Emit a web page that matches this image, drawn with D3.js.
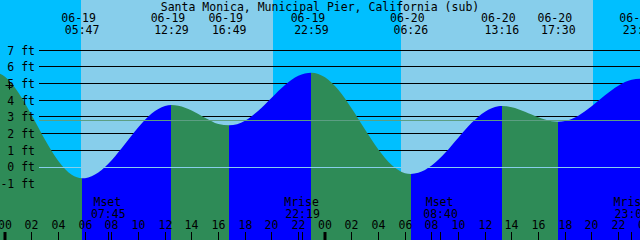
<!DOCTYPE html>
<html><head><meta charset="utf-8">
<script src="https://cdn.jsdelivr.net/npm/d3@7"></script>
<style>
html,body{margin:0;padding:0;background:#00bfff;}
svg{display:block;}
text{font-family:"DejaVu Sans Mono",monospace;font-size:11.5px;fill:#000;}
</style>
</head><body>
<svg id="c" width="640" height="240"></svg>
<script>
// ---------- data ----------
const title = "Santa Monica, Municipal Pier, California (sub)";
const days = ["06-19", "06-20", "06-21"];
const firstHour = -1; // hourly series starts at 06-18 23:00
const hourlyLevels = [5.75, 5.41, 4.47, 3.11, 1.64, 0.36, -0.47, -0.67, -0.33, 0.41,
  1.38, 2.39, 3.21, 3.66, 3.68, 3.39, 2.96, 2.58, 2.51, 2.78,
  3.38, 4.16, 4.92, 5.47, 5.66, 5.38, 4.63, 3.51, 2.25, 1.05,
  0.12, -0.37, -0.35, 0.09, 0.84, 1.76, 2.65, 3.32, 3.64, 3.59,
  3.32, 2.98, 2.75, 2.76, 3.08, 3.64, 4.30, 4.88, 5.23, 5.28];
const tideDates = ["06-19", "06-19", "06-19", "06-19", "06-20", "06-20", "06-20", "06-20"];
const tideTimes = ["05:47", "12:29", "16:49", "22:59", "06:26", "13:16", "17:30", "23:38"];
const tideLevels = [-0.68, 3.72, 2.50, 5.66, -0.42, 3.66, 2.72, 5.30];
const sunDates = ["06-19", "06-20"];
const sunrises = ["05:42", "05:42"];
const sunsets = ["20:08", "20:08"];
const moonDates = ["06-19", "06-19", "06-20", "06-20"];
const moonNames = ["Mset", "Mrise", "Mset", "Mrise"];
const moonTimes = ["07:45", "22:19", "08:40", "23:01"];
const levelTicks = [-1, 0, 1, 2, 3, 4, 5, 6, 7];
const hourTicks = d3.range(0, 49, 2);
const meanLevel = 2.8;
const markTime = 0.3, markLevel = 4.9;

// ---------- helpers ----------
const W = 640, H = 240;
const toHours = (date, time) => {
  const [hh, mm] = time.split(":").map(Number);
  return days.indexOf(date) * 24 + hh + mm / 60;
};
const x = d3.scaleLinear().domain([0, 48]).range([5, 645]);
const y = d3.scaleLinear().domain([0, 7]).range([167, 50.33]);
const svg = d3.select("#c");
const crisp = v => Math.floor(v) + 0.5;

// background: night + day bands
svg.append("rect").attr("width", W).attr("height", H).attr("fill", "#00bfff");
sunDates.forEach((d, i) => {
  const a = Math.round(x(toHours(d, sunrises[i]))), b = Math.round(x(toHours(d, sunsets[i])));
  svg.append("rect").attr("x", a).attr("y", 0).attr("width", b - a).attr("height", H)
    .attr("fill", "#87ceeb");
});

// grid lines (behind the water)
svg.append("g").selectAll("line").data(levelTicks.filter(d => d !== 0)).join("line")
  .attr("x1", 39).attr("x2", W)
  .attr("y1", d => crisp(y(d))).attr("y2", d => crisp(y(d)))
  .attr("stroke", "#000").attr("stroke-width", 1);

// tide curve points
const events = tideTimes.map((t, i) => ({ t: toHours(tideDates[i], t), v: tideLevels[i], label: t, date: tideDates[i] }));
const pts = hourlyLevels.map((v, i) => ({ t: firstHour + i, v }))
  .filter(p => !events.some(e => Math.abs(e.t - p.t) < 0.2))
  .concat(events.map(e => ({ t: e.t, v: e.v })))
  .sort((a, b) => a.t - b.t);

const area = d3.area().x(d => x(d.t)).y0(H).y1(d => y(d.v)).curve(d3.curveMonotoneX);
svg.append("clipPath").attr("id", "water").append("path").attr("d", area(pts));

const water = svg.append("g").attr("clip-path", "url(#water)");
const bounds = [firstHour - 1].concat(events.map(e => e.t)).concat([60]);
for (let i = 0; i < bounds.length - 1; i++) {
  // segment ending at event i is rising if that event is a high
  let rising;
  if (i < events.length) {
    const prev = i === 0 ? hourlyLevels[0] : events[i - 1].v;
    rising = events[i].v > prev;
  } else {
    rising = events[events.length - 1].v < events[events.length - 2].v;
  }
  const a = Math.round(x(bounds[i])), b = Math.round(x(bounds[i + 1]));
  water.append("rect").attr("x", a).attr("y", 0).attr("width", b - a).attr("height", H)
    .attr("fill", rising ? "#0000ff" : "#2e8b57").attr("shape-rendering", "crispEdges");
}

// datum and mean lines on top
svg.append("line").attr("x1", 39).attr("x2", W)
  .attr("y1", crisp(y(0))).attr("y2", crisp(y(0))).attr("stroke", "#87ceeb");
svg.append("line").attr("x1", 39).attr("x2", W)
  .attr("y1", crisp(y(meanLevel))).attr("y2", crisp(y(meanLevel))).attr("stroke", "#5c9e83");

// y axis labels
const yAxis = d3.axisLeft(y).tickValues(levelTicks).tickFormat(d => d + " ft")
  .tickSizeInner(0).tickSizeOuter(0).tickPadding(3);
const gy = svg.append("g").attr("transform", "translate(38,0)").call(yAxis);
gy.select(".domain").remove();
gy.selectAll("text").attr("font-family", null).attr("font-size", null)
  .style("font-family", "'DejaVu Sans Mono', monospace").style("font-size", "11.5px");

// bottom hour axis
const xAxis = d3.axisTop(x).tickValues(hourTicks)
  .tickFormat(d => String(d % 24).padStart(2, "0")).tickSizeInner(8).tickSizeOuter(0).tickPadding(3);
const gx = svg.append("g").attr("transform", `translate(0,${H})`).call(xAxis);
gx.select(".domain").remove();
gx.selectAll(".tick line").attr("stroke", "#000")
  .attr("stroke-width", d => d % 24 === 0 ? 3 : 1);
gx.selectAll(".tick").attr("transform", d => `translate(${d % 24 === 0 ? x(d) : crisp(x(d))},0)`);
gx.selectAll("text").style("font-family", "'DejaVu Sans Mono', monospace").style("font-size", "11.5px");

// title
svg.append("text").attr("x", W / 2).attr("y", 10.5).attr("text-anchor", "middle").text(title);

// tide event labels
const ev = svg.append("g").attr("text-anchor", "middle");
events.forEach(e => {
  ev.append("text").attr("x", x(e.t) - 3.5).attr("y", 22).text(e.date);
  ev.append("text").attr("x", x(e.t)).attr("y", 33.5).text(e.label);
});

// moon events
const mg = svg.append("g").attr("text-anchor", "middle");
moonNames.forEach((n, i) => {
  const t = toHours(moonDates[i], moonTimes[i]);
  mg.append("text").attr("x", x(t) - 1).attr("y", 206).text(n);
  mg.append("text").attr("x", x(t)).attr("y", 218).text(moonTimes[i]);
  mg.append("line").attr("x1", crisp(x(t))).attr("x2", crisp(x(t)))
    .attr("y1", H - 8).attr("y2", H).attr("stroke", "#000");
});

// "+" mark
const mx = crisp(x(markTime)), my = crisp(y(markLevel));
svg.append("path").attr("d", `M${mx - 4},${my}H${mx + 4}M${mx},${my - 4}V${my + 4}`)
  .attr("stroke", "#000").attr("fill", "none");
</script>
</body></html>
